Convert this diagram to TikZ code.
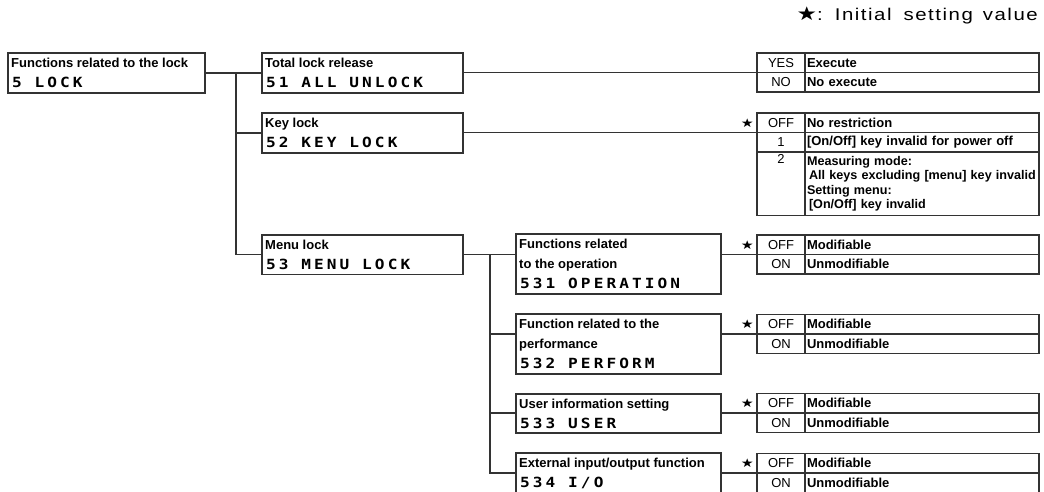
\documentclass[tikz,border=0pt]{standalone}
\usepackage{fontspec}
\setmainfont{Liberation Sans}
\newfontfamily\codefont{DejaVu Sans Mono}[FakeStretch=1.15,LetterSpace=22]
\newfontfamily\starfont{DejaVu Sans}[FakeStretch=1.2]
\newfontfamily\legfont{Liberation Sans}[FakeStretch=1.2,LetterSpace=9]
\definecolor{linec}{gray}{0.2}
\begin{document}
\begin{tikzpicture}[x=1pt,y=-1pt,
  ln/.style={draw=linec,line width=1.1pt},
  box/.style={draw=linec,line width=1.1pt,anchor=north west,inner sep=0pt,outer sep=0pt},
  ttl/.style={anchor=base west,inner sep=0pt,font=\fontsize{13}{15}\selectfont\bfseries},
  cd/.style={anchor=base west,inner sep=0pt,font=\codefont\fontsize{14}{16}\selectfont\bfseries},
  ca/.style={draw=linec,line width=1.1pt,anchor=north west,inner sep=0pt,outer sep=0pt,minimum width=48pt,minimum height=19.5pt,font=\fontsize{13}{15}\selectfont},
  cb/.style={draw=linec,line width=1.1pt,anchor=north west,inner xsep=2pt,inner ysep=0pt,outer sep=0pt,minimum width=234pt,text width=230pt,align=left,minimum height=19.5pt,font=\fontsize{13}{15}\selectfont\bfseries},
  st/.style={anchor=east,inner sep=0pt,xshift=-3pt,font=\starfont\fontsize{12}{13}\selectfont},
]
\useasboundingbox (0,0) rectangle (1044,491);

% legend
\node[anchor=east,inner sep=0pt,font=\legfont\fontsize{17}{19}\selectfont] (leg) at (1038,15) {{\starfont\fontsize{19}{20}\selectfont ★}:\hspace{12pt}Initial\hspace{12pt}setting\hspace{10pt}value};

% boxes
\node[box,minimum width=197pt,minimum height=40pt] (b5) at (8,53) {};
\node[box,minimum width=201pt,minimum height=40pt] (b51) at (262,53) {};
\node[box,minimum width=201pt,minimum height=40pt] (b52) at (262,113) {};
\node[box,minimum width=201pt,minimum height=39.5pt] (b53) at (262,235) {};
\node[box,minimum width=205pt,minimum height=60pt] (b531) at (516,234) {};
\node[box,minimum width=205pt,minimum height=60pt] (b532) at (516,314) {};
\node[box,minimum width=205pt,minimum height=39pt] (b533) at (516,394) {};
\node[box,minimum width=205pt,minimum height=40pt] (b534) at (516,453) {};

% box texts
\node[ttl] (b5t) at ([shift={(3,14.5)}]b5.north west) {Functions related to the lock};
\node[cd]  (b5c) at ([shift={(4,34)}]b5.north west) {5 LOCK};
\node[ttl] (b51t) at ([shift={(3,14.5)}]b51.north west) {Total lock release};
\node[cd]  (b51c) at ([shift={(4,34)}]b51.north west) {51 ALL UNLOCK};
\node[ttl] (b52t) at ([shift={(3,14.5)}]b52.north west) {Key lock};
\node[cd]  (b52c) at ([shift={(4,34)}]b52.north west) {52 KEY LOCK};
\node[ttl] (b53t) at ([shift={(3,14.5)}]b53.north west) {Menu lock};
\node[cd]  (b53c) at ([shift={(4,34)}]b53.north west) {53 MENU LOCK};
\node[ttl] (b531t) at ([shift={(3,14.5)}]b531.north west) {Functions related};
\node[ttl] (b531u) at ([shift={(3,34)}]b531.north west) {to the operation};
\node[cd]  (b531c) at ([shift={(4,54)}]b531.north west) {531 OPERATION};
\node[ttl] (b532t) at ([shift={(3,14.5)}]b532.north west) {Function related to the};
\node[ttl] (b532u) at ([shift={(3,34)}]b532.north west) {performance};
\node[cd]  (b532c) at ([shift={(4,54)}]b532.north west) {532 PERFORM};
\node[ttl] (b533t) at ([shift={(3,14.5)}]b533.north west) {User information setting};
\node[cd]  (b533c) at ([shift={(4,34)}]b533.north west) {533 USER};
\node[ttl] (b534t) at ([shift={(3,14.5)}]b534.north west) {External input/output function};
\node[cd]  (b534c) at ([shift={(4,34)}]b534.north west) {534 I/O};

% tables
\node[ca] (t51a) at (757,53) {YES};
\node[cb] (t51b) at (t51a.north east) {Execute};
\node[ca] (t51c) at (t51a.south west) {NO};
\node[cb] (t51d) at (t51c.north east) {No execute};

\node[ca] (t52a) at (757,113) {OFF};
\node[cb] (t52b) at (t52a.north east) {No restriction};
\node[ca] (t52c) at (t52a.south west) {1};
\node[cb] (t52d) at (t52c.north east) {[On/Off] key invalid for power off};
\node[ca,minimum height=63.5pt,label={[anchor=north,inner sep=0pt,yshift=-2.5pt,font=\fontsize{13}{15}\selectfont]north:2}] (t52e) at (t52c.south west) {};
\node[cb,minimum height=63.5pt,font=\fontsize{12.6}{14.5}\selectfont\bfseries] (t52f) at (t52e.north east) {Measuring mode:\\\hspace*{2pt}All keys excluding [menu] key invalid\\Setting menu:\\\hspace*{2pt}[On/Off] key invalid};
\node[st] (s52) at (t52a.west) {★};

\node[ca] (t531a) at (757,235) {OFF};
\node[cb] (t531b) at (t531a.north east) {Modifiable};
\node[ca] (t531c) at (t531a.south west) {ON};
\node[cb] (t531d) at (t531c.north east) {Unmodifiable};
\node[st] (s531) at (t531a.west) {★};

\node[ca] (t532a) at (757,314.5) {OFF};
\node[cb] (t532b) at (t532a.north east) {Modifiable};
\node[ca] (t532c) at (t532a.south west) {ON};
\node[cb] (t532d) at (t532c.north east) {Unmodifiable};
\node[st] (s532) at (t532a.west) {★};

\node[ca] (t533a) at (757,393.5) {OFF};
\node[cb] (t533b) at (t533a.north east) {Modifiable};
\node[ca] (t533c) at (t533a.south west) {ON};
\node[cb] (t533d) at (t533c.north east) {Unmodifiable};
\node[st] (s533) at (t533a.west) {★};

\node[ca] (t534a) at (757,453.5) {OFF};
\node[cb] (t534b) at (t534a.north east) {Modifiable};
\node[ca] (t534c) at (t534a.south west) {ON};
\node[cb] (t534d) at (t534c.north east) {Unmodifiable};
\node[st] (s534) at (t534a.west) {★};

% connectors
\coordinate (j1) at (236,0);
\coordinate (j2) at (490,0);
\draw[ln] (b5.east) -- (b51.west);
\draw[ln] (b5.east -| j1) |- (b52.west);
\draw[ln] (b5.east -| j1) |- (b53.west);
\draw[ln] (b53.east) -- (b53.east -| b531.west);
\draw[ln] (b53.east -| j2) |- (t532a.south west -| b532.west);
\draw[ln] (b53.east -| j2) |- (t533a.south west -| b533.west);
\draw[ln] (b53.east -| j2) |- (t534a.south west -| b534.west);

\draw[ln] (t51a.south west -| b51.east) -- (t51a.south west);
\draw[ln] (t52a.south west -| b52.east) -- (t52a.south west);
\draw[ln] (t531a.south west -| b531.east) -- (t531a.south west);
\draw[ln] (t532a.south west -| b532.east) -- (t532a.south west);
\draw[ln] (t533a.south west -| b533.east) -- (t533a.south west);
\draw[ln] (t534a.south west -| b534.east) -- (t534a.south west);
\end{tikzpicture}
\end{document}
